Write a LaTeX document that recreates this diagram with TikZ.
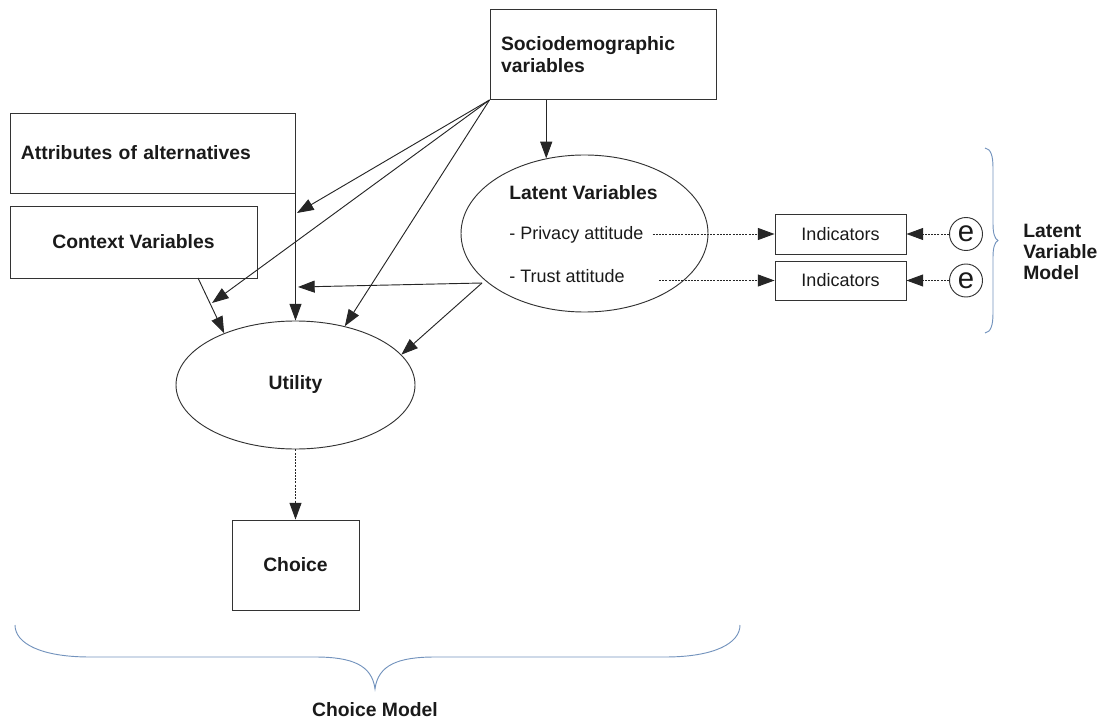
\documentclass[tikz,border=0pt]{standalone}
\usepackage{fontspec}
\setmainfont{Liberation Sans}
\usetikzlibrary{arrows.meta,shapes.geometric}
\definecolor{bracecol}{HTML}{7393BD}
\definecolor{ink}{HTML}{1A1A1A}
\tikzset{
  box/.style={draw=black!80, line width=0.7pt, rectangle, inner sep=0pt, text=ink},
  oval/.style={draw=black!80, line width=0.7pt, ellipse, inner sep=0pt, text=ink},
  bold/.style={font=\fontsize{14.5}{16.5}\selectfont\bfseries},
  reg/.style={font=\fontsize{13.5}{16}\selectfont},
  arr/.style={draw=black!85, line width=0.7pt, -{Triangle[length=12.5pt,width=9pt]}},
  dotarr/.style={draw=black!85, line width=0.7pt, dash pattern=on 1.5pt off 0.9pt, -{Triangle[length=12.5pt,width=9pt]}},
  ecirc/.style={draw=black!80, line width=0.7pt, circle, minimum size={33*0.75pt}, inner sep=0pt, text=ink, font=\fontsize{22}{22}\selectfont},
  bracestyle/.style={draw=bracecol, line width=0.7pt},
  lbl/.style={text=ink, inner sep=0pt}
}
\begin{document}
\begin{tikzpicture}[x=0.75pt, y=-0.75pt]
\useasboundingbox (0,0) rectangle (1103,720);

% boxes
\node[box, bold, minimum width={226*0.75pt}, minimum height={90*0.75pt}, text width={204*0.75pt}, align=left, inner xsep={11*0.75pt}] (socio) at (603,54.5) {Sociodemographic\\variables};
\node[box, bold, minimum width={285*0.75pt}, minimum height={80*0.75pt}, text width={263*0.75pt}, align=left, inner xsep={11*0.75pt}] (attr) at (152.5,153) {Attributes of alternatives};
\node[box, bold, minimum width={247*0.75pt}, minimum height={72*0.75pt}] (ctx) at (133.5,242) {Context Variables};
\node[oval, bold, minimum width={239*0.75pt}, minimum height={128*0.75pt}] (utility) at (295.5,385) {Utility};
\node[box, bold, minimum width={127*0.75pt}, minimum height={90*0.75pt}] (choice) at (295.5,565) {Choice};

% latent variables
\node[oval, minimum width={247*0.75pt}, minimum height={157*0.75pt}] (latent) at (584.5,233.5) {};
\node[lbl, bold, anchor=west] (lvt) at (509,193) {Latent Variables};
\node[lbl, reg, anchor=west] (priv) at (509,235) {- Privacy attitude};
\node[lbl, reg, anchor=west] (trust) at (509,276) {- Trust attitude};

\node[box, reg, minimum width={131*0.75pt}, minimum height={40*0.75pt}] (ind1) at (840.5,234) {Indicators};
\node[box, reg, minimum width={131*0.75pt}, minimum height={39*0.75pt}] (ind2) at (840.5,280.5) {Indicators};
\node[ecirc] (e1) at (966,234) {e};
\node[ecirc] (e2) at (966,280.5) {e};

\node[lbl, anchor=west, align=left, font=\fontsize{14.5}{15.75}\selectfont\bfseries] (lvm) at (1023,252) {Latent\\Variable\\Model};
\node[lbl, bold] (cm) at (375,710) {Choice Model};

% free ends
\coordinate (t1) at (297,213);
\coordinate (t2) at (212,303);
\coordinate (t3) at (298,287);
\coordinate (ctxo) at (198,278);
\coordinate (lato) at (482,283);

% connectors
\draw[arr] (socio.south west) -- (t1);
\draw[arr] (socio.south west) -- (t2);
\draw[arr] (socio.south west) -- (utility.50);
\draw[arr] (latent.117 |- socio.south) -- (latent.117);
\draw[arr] (attr.south east) -- (utility.north);
\draw[arr] (ctxo) -- (utility.144);
\draw[arr] (lato) -- (t3);
\draw[arr] (lato) -- (utility.16);
\draw[dotarr] ([xshift={9*0.75pt}]priv.east |- ind1.west) -- (ind1.west);
\draw[dotarr] ([xshift={34*0.75pt}]trust.east |- ind2.west) -- (ind2.west);
\draw[dotarr] (e1.west) -- (ind1.east);
\draw[dotarr] (e2.west) -- (ind2.east);
\draw[dotarr] (utility.south) -- (choice.north);

% braces
\draw[bracestyle] (985,148) .. controls (991,149) and (993,156) .. (993,168) -- (993,224) .. controls (993,234) and (995,239) .. (998,240.5) .. controls (995,242) and (993,247) .. (993,257) -- (993,313) .. controls (993,325) and (991,332) .. (985,333);
\draw[bracestyle] (15,625) .. controls (15,643) and (40,657) .. (90,657) -- (315,657) .. controls (352,657) and (372,665) .. (375,689) .. controls (378,665) and (398,657) .. (435,657) -- (665,657) .. controls (715,657) and (740,643) .. (740,625);
\end{tikzpicture}
\end{document}
